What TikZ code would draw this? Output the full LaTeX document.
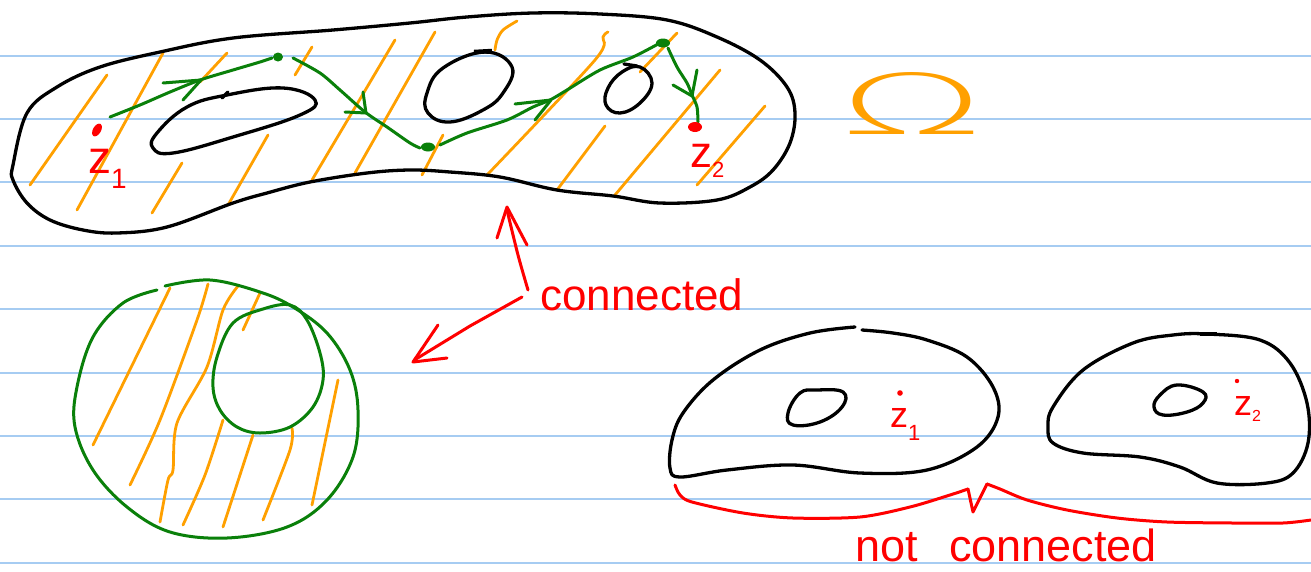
\documentclass[tikz,border=0pt]{standalone}
\usepackage{fontspec}
\setmainfont{Liberation Sans}
\newfontfamily\omegafont{DejaVuSans-ExtraLight.ttf}
\definecolor{rulecol}{RGB}{166,204,242}
\definecolor{hatchcol}{RGB}{255,160,0}
\definecolor{greencol}{RGB}{10,128,10}
\definecolor{redcol}{RGB}{255,0,0}
\tikzset{
  ruleline/.style={rulecol, line width=2.2pt},
  hatchstroke/.style={hatchcol, line width=2.8pt, line cap=round},
  outline/.style={black, line width=3.3pt, line cap=round, line join=round},
  greenpen/.style={greencol, line width=3pt, line cap=round, line join=round},
  redpen/.style={redcol, line width=3pt, line cap=round, line join=round},
  redlabel/.style={redcol, inner sep=0pt, anchor=base west},
}
\begin{document}
\begin{tikzpicture}[x=1pt, y=-1pt]
\useasboundingbox (0,0) rectangle (1311,571);
\fill[white] (0,0) rectangle (1311,571);
% ruled paper
\foreach \yy in {56,119,182,246,309,373,436,499,563}
  \draw[ruleline] (0,\yy) -- (1311,\yy);

% ---------- top region: hatching ----------
\draw[hatchstroke] (107,75) -- (30,185);
\draw[hatchstroke] (163,53) -- (77,210);
\draw[hatchstroke] (227,53) -- (200,82);
\draw[hatchstroke] (312,47) -- (295,75);
\draw[hatchstroke] (182,163) -- (152,213);
\draw[hatchstroke] (268,135) -- (228,205);
\draw[hatchstroke] (395,40) -- (312,180);
\draw[hatchstroke] (435,32) -- (355,173);
\draw[hatchstroke] plot[smooth] coordinates {(517,21) (503,30) (497,40) (495,50)};
\draw[hatchstroke] plot[smooth] coordinates {(608,32) (603,37) (595,60) (487,175)};
\draw[hatchstroke] (677,33) -- (640,72);
\draw[hatchstroke] (443,135) -- (422,175);
\draw[hatchstroke] (605,126) -- (557,190);
\draw[hatchstroke] (720,70) -- (615,195);
\draw[hatchstroke] (765,106) -- (697,185);

% ---------- top region: outlines ----------
\draw[outline] plot[smooth cycle, tension=0.6] coordinates {
 (13,165) (27,113) (57,87) (100,67) (160,52) (233,38) (333,30) (410,23)
 (467,17) (533,13) (600,14) (667,20) (717,37) (760,60) (787,87) (795,113)
 (790,143) (773,170) (750,187) (717,200) (660,203) (613,196) (557,190)
 (500,177) (450,172) (410,170) (367,173) (310,182) (267,193) (233,203)
 (167,227) (117,233) (83,230) (50,220) (27,203) (13,180)};
\draw[outline] plot[smooth cycle, tension=0.7] coordinates {
 (227,95) (283,88) (315,100) (300,115) (233,137) (173,153) (153,148) (157,133) (187,107)};
\draw[outline] (222,98) -- (228,92);
\draw[outline] plot[smooth cycle, tension=0.7] coordinates {
 (485,52) (512,67) (503,93) (483,110) (450,122) (428,113) (427,93) (443,68)};
\draw[black, line width=4.5pt] (474,52) -- (492,51);
\draw[outline] plot[smooth cycle, tension=0.7] coordinates {
 (640,67) (652,83) (640,103) (620,113) (606,105) (608,88) (622,72)};
\draw[outline] (624,64) -- (637,66);

% ---------- green path ----------
\draw[greenpen] plot[smooth] coordinates {(110,117) (140,105) (170,92) (200,80) (233,70) (260,62) (272,58)};
\draw[greenpen] (163,83) -- (201,80) -- (183,100);
\draw[greenpen] plot[smooth] coordinates {(293,58) (320,73) (340,90) (365,112) (387,127) (410,143) (420,148)};
\draw[greenpen] (345,112) -- (366,113) -- (363,92);
\draw[greenpen] plot[smooth] coordinates {(440,145) (467,133) (507,120) (533,107) (550,100) (567,90) (600,70) (633,57) (660,43)};
\draw[greenpen] (515,104) -- (551,100) -- (535,120);
\draw[greenpen] plot[smooth] coordinates {(668,48) (677,67) (687,83) (692,95) (697,107) (698,122)};
\draw[greenpen] (673,85) -- (692,96) -- (697,70);
\fill[greencol] (278,57) ellipse[x radius=5pt, y radius=4.5pt];
\fill[greencol] (428,147) ellipse[x radius=7pt, y radius=4.5pt];
\fill[greencol] (663,43) ellipse[x radius=7pt, y radius=4.5pt];

% ---------- z labels top ----------
\fill[redcol, rotate around={60:(97,130)}] (97,130) ellipse[x radius=7pt, y radius=4pt];
\fill[redcol] (695,127) ellipse[x radius=7pt, y radius=5pt];
\node[redlabel] (z1top) at (88,173) {\fontsize{46}{46}\selectfont z\raisebox{-15pt}{\fontsize{28}{28}\selectfont 1}};
\node[redlabel] (z2top) at (690,167) {\fontsize{44}{44}\selectfont z\raisebox{-10pt}{\fontsize{22}{22}\selectfont 2}};

% ---------- Omega ----------
\node[hatchcol, inner sep=0pt] (omega) at (912,103) {\resizebox{145pt}{62pt}{\omegafont Ω}};

% ---------- bottom-left annulus ----------
\draw[hatchstroke] (170,288) -- (93,445);
\draw[hatchstroke] plot[smooth] coordinates {(208,284) (197,320) (160,420) (130,485)};
\draw[hatchstroke] plot[smooth] coordinates {(238,286) (223,310) (207,367) (177,423) (173,470) (168,480) (160,522)};
\draw[hatchstroke] (260,293) -- (243,330);
\draw[hatchstroke] plot[smooth] coordinates {(223,420) (205,475) (183,525)};
\draw[hatchstroke] (253,435) -- (223,527);
\draw[hatchstroke] plot[smooth] coordinates {(292,428) (290,450) (263,520)};
\draw[hatchstroke] (338,380) -- (312,505);
\draw[greenpen] plot[smooth, tension=0.6] coordinates {
 (165,286) (210,280) (260,292) (293,307) (327,333) (350,370) (358,410)
 (353,457) (327,500) (287,527) (227,538) (170,532) (127,507) (93,470)
 (75,427) (77,387) (93,337) (123,303) (157,290)};
\draw[greenpen] plot[smooth cycle, tension=0.6] coordinates {
 (290,305) (263,309) (233,323) (217,357) (213,387) (220,410) (237,427)
 (260,433) (290,427) (313,407) (323,380) (320,353) (307,320)};

% ---------- "connected" ----------
\node[redlabel] (conn) at (540,310) {\fontsize{44}{44}\selectfont connected};
\coordinate (upStart) at (528,290);
\coordinate (upTip) at (507,210);
\coordinate (dlStart) at (522,297);
\coordinate (dlTip) at (416,359);
\draw[redpen] plot[smooth] coordinates {(upStart) (518,255) (upTip)};
\draw[redpen] (497,238) -- (507,207) -- (527,245);
\draw[redpen] (dlStart) -- (470,326) -- (dlTip);
\draw[redpen] (438,325) -- (413,362) -- (447,358);

% ---------- bottom-right blobs ----------
\draw[outline] plot[smooth, tension=0.6] coordinates {
 (862,330) (893,333) (927,340) (967,357) (993,387) (998,417) (977,447)
 (927,470) (860,473) (793,465) (727,470) (680,477) (670,468) (672,440)
 (683,413) (713,380) (760,350) (810,333) (855,327)};
\draw[outline] plot[smooth cycle, tension=0.7] coordinates {
 (817,390) (843,392) (842,407) (820,422) (793,425) (788,413) (800,393)};
\draw[outline] plot[smooth cycle, tension=0.6] coordinates {
 (1207,334) (1260,340) (1290,363) (1307,403) (1308,443) (1293,473)
 (1267,483) (1217,483) (1180,467) (1140,457) (1083,453) (1053,443)
 (1048,427) (1053,407) (1083,370) (1133,343) (1173,335)};
\draw[black, line width=4.5pt] (1200,334) -- (1217,334);
\draw[outline] plot[smooth cycle, tension=0.7] coordinates {
 (1177,385) (1203,392) (1203,403) (1187,412) (1163,415) (1154,407) (1160,395)};

\fill[redcol] (900,393) circle[radius=2.8pt];
\fill[redcol] (1237,381) circle[radius=2.2pt];
\node[redlabel] (z1bot) at (890,427) {\fontsize{36}{36}\selectfont z\raisebox{-13pt}{\fontsize{22}{22}\selectfont 1}};
\node[redlabel] (z2bot) at (1234,415) {\fontsize{36}{36}\selectfont z\raisebox{-6pt}{\fontsize{16}{16}\selectfont 2}};

% ---------- brace ----------
\draw[redpen] plot[smooth] coordinates {(675,485) (680,495) (692,502) (743,513) (793,518) (860,517) (910,507) (950,495) (968,489)};
\draw[redpen] (968,489) -- (973,512) -- (987,484);
\draw[redpen] plot[smooth] coordinates {(987,484) (1000,489) (1027,500) (1067,510) (1117,518) (1167,522) (1233,523) (1283,523) (1311,520)};
\node[redlabel] (notconn) at (855,561) {\fontsize{45}{45}\selectfont not\hspace{0.7em}connected};
\end{tikzpicture}
\end{document}
